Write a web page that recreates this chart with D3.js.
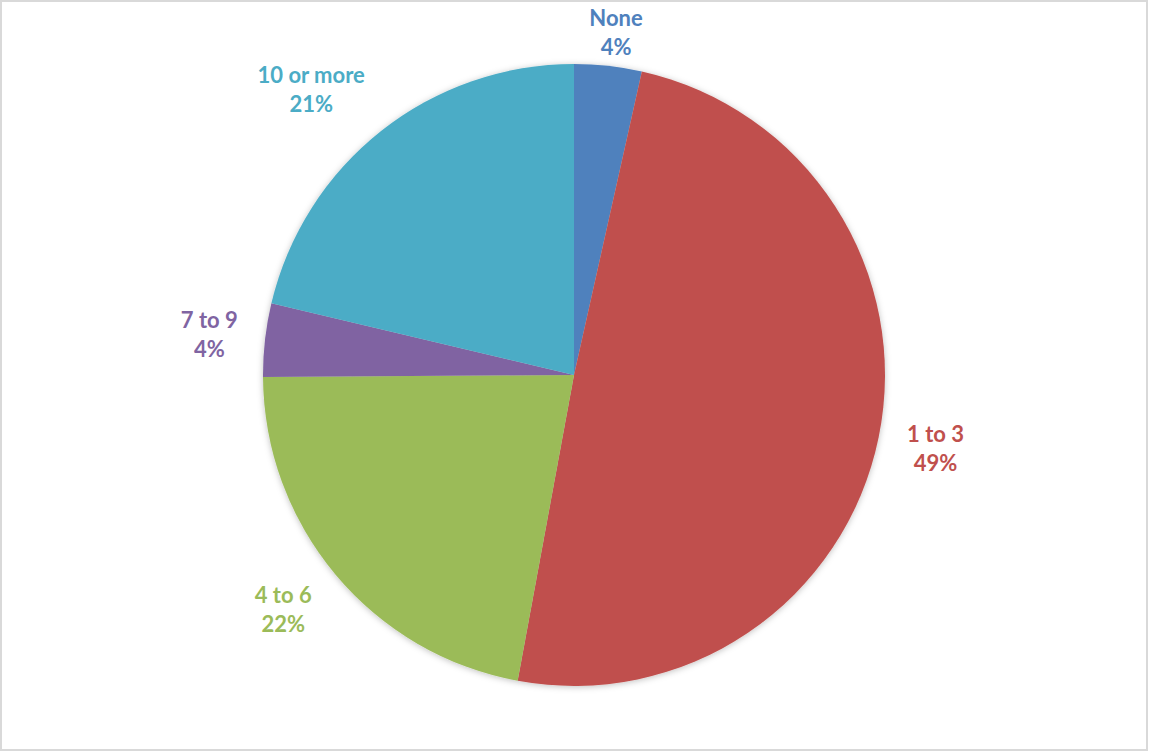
<!DOCTYPE html>
<html>
<head>
<meta charset="utf-8">
<script src="https://cdn.jsdelivr.net/npm/d3@7"></script>
<style>
  body { margin: 0; background: #fff; }
  svg { display: block; }
</style>
</head>
<body>
<svg width="1149" height="752"></svg>
<script>
var categories = ["None", "1 to 3", "4 to 6", "7 to 9", "10 or more"];
var values = [3.5, 49.4, 22.0, 3.8, 21.3];
var colors = ["#4F81BD", "#C0504D", "#9BBB59", "#8064A2", "#4BACC6"];

var svg = d3.select("svg"),
    width = +svg.attr("width"),
    height = +svg.attr("height"),
    cx = 574, cy = 375,
    radius = 311;

svg.append("rect")
    .attr("x", 1).attr("y", 1)
    .attr("width", width - 3).attr("height", height - 3)
    .attr("fill", "#fff")
    .attr("stroke", "#d9d9d9")
    .attr("stroke-width", 2);

var defs = svg.append("defs");
defs.append("filter")
    .attr("id", "shadow")
    .attr("x", "-10%").attr("y", "-10%")
    .attr("width", "120%").attr("height", "120%")
  .append("feDropShadow")
    .attr("dx", 0).attr("dy", 1)
    .attr("stdDeviation", 3)
    .attr("flood-color", "#000")
    .attr("flood-opacity", 0.25);

var data = categories.map(function(c, i) { return {name: c, value: values[i], color: colors[i]}; });
var total = d3.sum(values);

var pie = d3.pie().sort(null).value(function(d) { return d.value; });
var arc = d3.arc().innerRadius(0).outerRadius(radius);
var arcs = pie(data);

var g = svg.append("g")
    .attr("transform", "translate(" + cx + "," + cy + ")");

g.append("g")
    .attr("filter", "url(#shadow)")
  .selectAll("path")
    .data(arcs)
  .enter().append("path")
    .attr("d", arc)
    .attr("fill", function(d) { return d.data.color; });

// labels outside end
var gap = 25, lineH = 29;
var labels = g.selectAll("text.lbl")
    .data(arcs)
  .enter().append("text")
    .attr("class", "lbl")
    .attr("text-anchor", "middle")
    .attr("font-family", "Lato, 'Open Sans', sans-serif")
    .attr("font-weight", "bold")
    .attr("font-size", "22px")
    .attr("fill", function(d) { return d.data.color; });

labels.append("tspan")
    .attr("x", 0).attr("dy", 0)
    .text(function(d) { return d.data.name; });
labels.append("tspan")
    .attr("x", 0).attr("dy", lineH)
    .text(function(d) { return Math.round(d.data.value / total * 100) + "%"; });

labels.each(function(d) {
    var bb = this.getBBox();
    var a = (d.startAngle + d.endAngle) / 2,
        s = Math.sin(a), c = Math.cos(a);
    var px = s * (radius + gap), py = -c * (radius + gap);
    // push wide labels out further on diagonals (box corner clears the arc)
    var mx = px + s * bb.width / 2 + s * Math.abs(c) * 0.4 * bb.width,
        my = py - c * bb.height / 2;
    // keep inside chart area
    var topLimit = -cy + 4 + bb.height / 2;
    if (my < topLimit) my = topLimit;
    var dy = my - (bb.y + bb.height / 2);
    d3.select(this).attr("transform", "translate(" + (mx - (bb.x + bb.width / 2)) + "," + dy + ")");
});
</script>
</body>
</html>
